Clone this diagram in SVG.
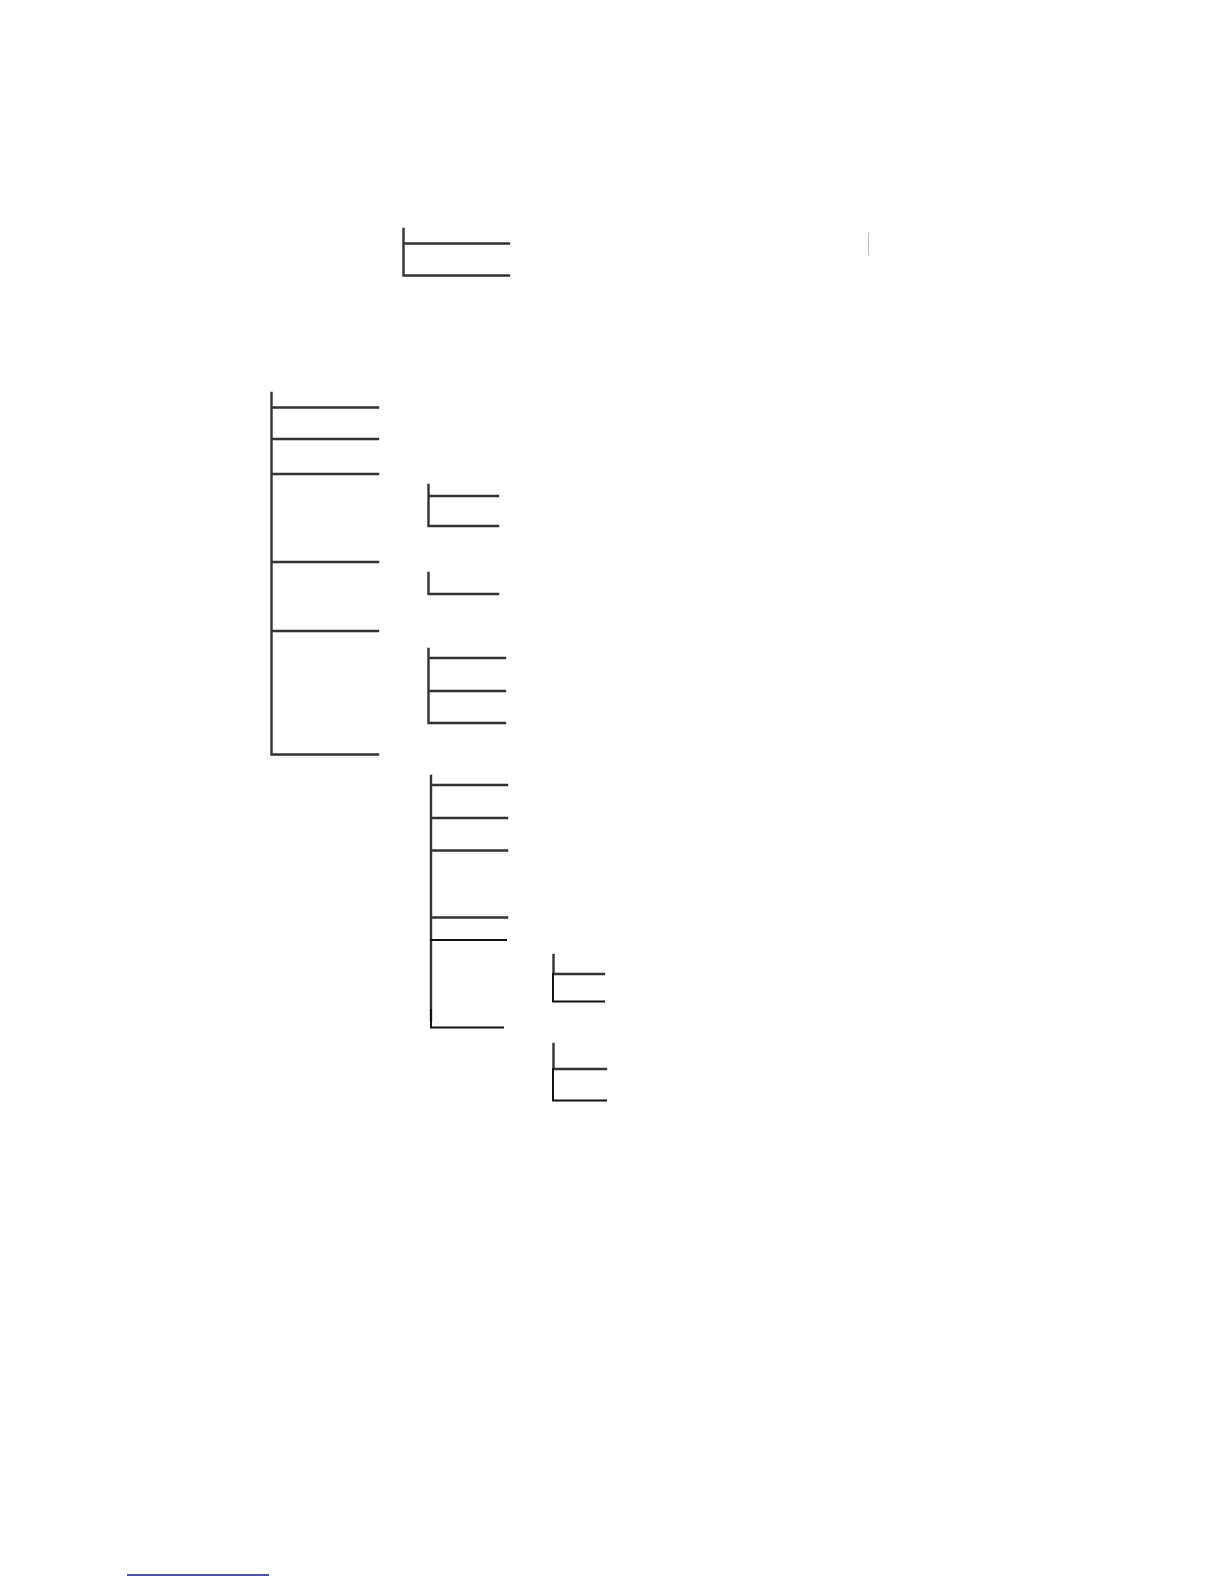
<svg xmlns="http://www.w3.org/2000/svg" width="1224" height="1584" viewBox="0 0 1224 1584">
<style>
.c{fill:none;stroke:#333;stroke-width:2.4;stroke-linecap:square}
.k{fill:none;stroke:#111;stroke-width:2;stroke-linecap:square}
.f{fill:none;stroke:#bbb;stroke-width:1}
</style>
<rect width="1224" height="1584" fill="#fff"/>
<g id="connectors">
<g id="tree-top">
<path class="c" d="M403.5 229V275.5H509M403.5 243.5H509"/>
<path class="f" d="M868.5 233V255"/>
</g>
<g id="tree-main">
<path class="c" d="M271.5 393V754.5H378M271.5 407.5H378M271.5 439H378M271.5 474H378M271.5 562H378M271.5 631H378"/>
<path class="c" d="M428.5 485V526H498M428.5 496H498"/>
<path class="c" d="M428.5 573V594H498"/>
<path class="c" d="M428.5 649V723H505M428.5 658H505M428.5 691H505"/>
</g>
<g id="tree-sub">
<path class="c" d="M431 776V1020M431 785H507M431 818H507M431 850.5H507M431 917.5H507"/>
<path class="k" d="M431 940H506M431 1010V1027.5H503"/>
<path class="c" d="M553.5 955V974H604"/>
<path class="k" d="M553 974V1001.5H604"/>
<path class="c" d="M553.5 1044V1069H606"/>
<path class="k" d="M553 1069V1100.5H606"/>
</g>
<path id="footnote-rule" d="M127 1575H269" stroke="#1a1a8c" stroke-width="1.5" fill="none"/>
</g>
</svg>
